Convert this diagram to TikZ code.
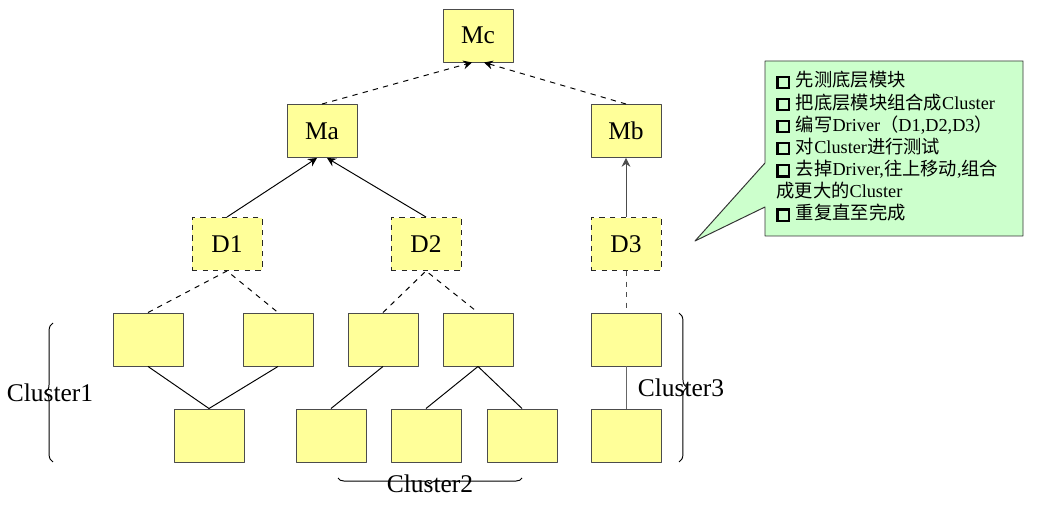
\documentclass[tikz,border=0pt]{standalone}
\usepackage{fontspec}
\setmainfont{Liberation Serif}
\newfontfamily\cjk{Noto Sans CJK SC}
\usetikzlibrary{arrows.meta,decorations.pathreplacing}
\definecolor{modyellow}{RGB}{255,255,153}
\definecolor{notegreen}{RGB}{204,255,204}
\newcommand{\chkbox}{{\setlength{\fboxrule}{1.2pt}\setlength{\fboxsep}{0pt}\fbox{\rule{0pt}{5.2pt}\hspace{5.2pt}}}\hspace{3.5pt}}
\begin{document}
\begin{tikzpicture}[>={Stealth[length=5pt,width=5pt]}, x=0.02cm, y=-0.02cm, line join=round, line width=0.55pt,
	mod/.style={draw=black!70, fill=modyellow, minimum width=1.4cm, minimum height=1.06cm, inner sep=0pt, font=\fontsize{14.5}{16}\selectfont},
	drv/.style={mod, dashed, draw=black!85},
	clbrace/.style={decorate, decoration={brace, amplitude=4.5pt}}]
	\useasboundingbox (0,0) rectangle (1038,509);
	\node[mod] (mc) at (478,35.5) {Mc};
	\node[mod] (ma) at (322,131) {Ma};
	\node[mod] (mb) at (626,131) {Mb};
	\node[drv] (d1) at (227,244) {D1};
	\node[drv] (d2) at (426,244) {D2};
	\node[drv] (d3) at (626,244) {D3};
	\node[mod] (m11) at (148,339.5) {};
	\node[mod] (m12) at (278,339.5) {};
	\node[mod] (m13) at (209,435.5) {};
	\node[mod] (m21) at (383,339.5) {};
	\node[mod] (m22) at (478,339.5) {};
	\node[mod] (m23) at (331,435.5) {};
	\node[mod] (m24) at (426,435.5) {};
	\node[mod] (m25) at (522,435.5) {};
	\node[mod] (m31) at (626,339.5) {};
	\node[mod] (m32) at (626,435.5) {};
	\draw[dashed,->] (ma.north) -- ([xshift=-0.12cm]mc.south);
	\draw[dashed,->] (mb.north) -- ([xshift=0.12cm]mc.south);
	\draw[->] (d1.north) -- ([xshift=-0.1cm]ma.south);
	\draw[->] (d2.north) -- ([xshift=0.1cm]ma.south);
	\draw[->,black!70] (d3.north) -- (mb.south);
	\draw[dashed] (m11.north) -- (d1.south) -- (m12.north);
	\draw[dashed] (m21.north) -- (d2.south) -- (m22.north);
	\draw[dashed,black!70] (d3.south) -- (m31.north);
	\draw (m11.south) -- (m13.north) -- (m12.south);
	\draw (m21.south) -- (m23.north);
	\draw (m24.north) -- (m22.south) -- (m25.north);
	\draw[black!60] (m31.south) -- (m32.north);
	\draw[clbrace] (53,462) -- (53,323);
	\draw[clbrace] (679,313) -- (679,462);
	\draw[clbrace, decoration={amplitude=3.5pt}] (522,478) -- (338,478);
	\node[font=\fontsize{14.5}{16}\selectfont] (cl1) at (50,393) {Cluster1};
	\node[font=\fontsize{14.5}{16}\selectfont] (cl2) at (430,484) {Cluster2};
	\node[font=\fontsize{14.5}{16}\selectfont] (cl3) at (681,388) {Cluster3};
	\draw[fill=notegreen, draw=black!80] (765,61) -- (1023,61) -- (1023,236) -- (765,236) -- (765,207) -- (695,241) -- (765,163) -- cycle;
	\node[anchor=north west, inner sep=0pt, align=left, font=\fontsize{10.4}{12.6}\selectfont] (note) at (776,71) {%
		\chkbox{\cjk 先测底层模块}\\
		\chkbox{\cjk 把底层模块组合成}Cluster\\
		\chkbox{\cjk 编写}Driver{\cjk （}D1,D2,D3{\cjk ）}\\
		\chkbox{\cjk 对}Cluster{\cjk 进行测试}\\
		\chkbox{\cjk 去掉}Driver,{\cjk 往上移动},{\cjk 组合}\\
		{\cjk 成更大的}Cluster\\
		\chkbox{\cjk 重复直至完成}};
\end{tikzpicture}
\end{document}
